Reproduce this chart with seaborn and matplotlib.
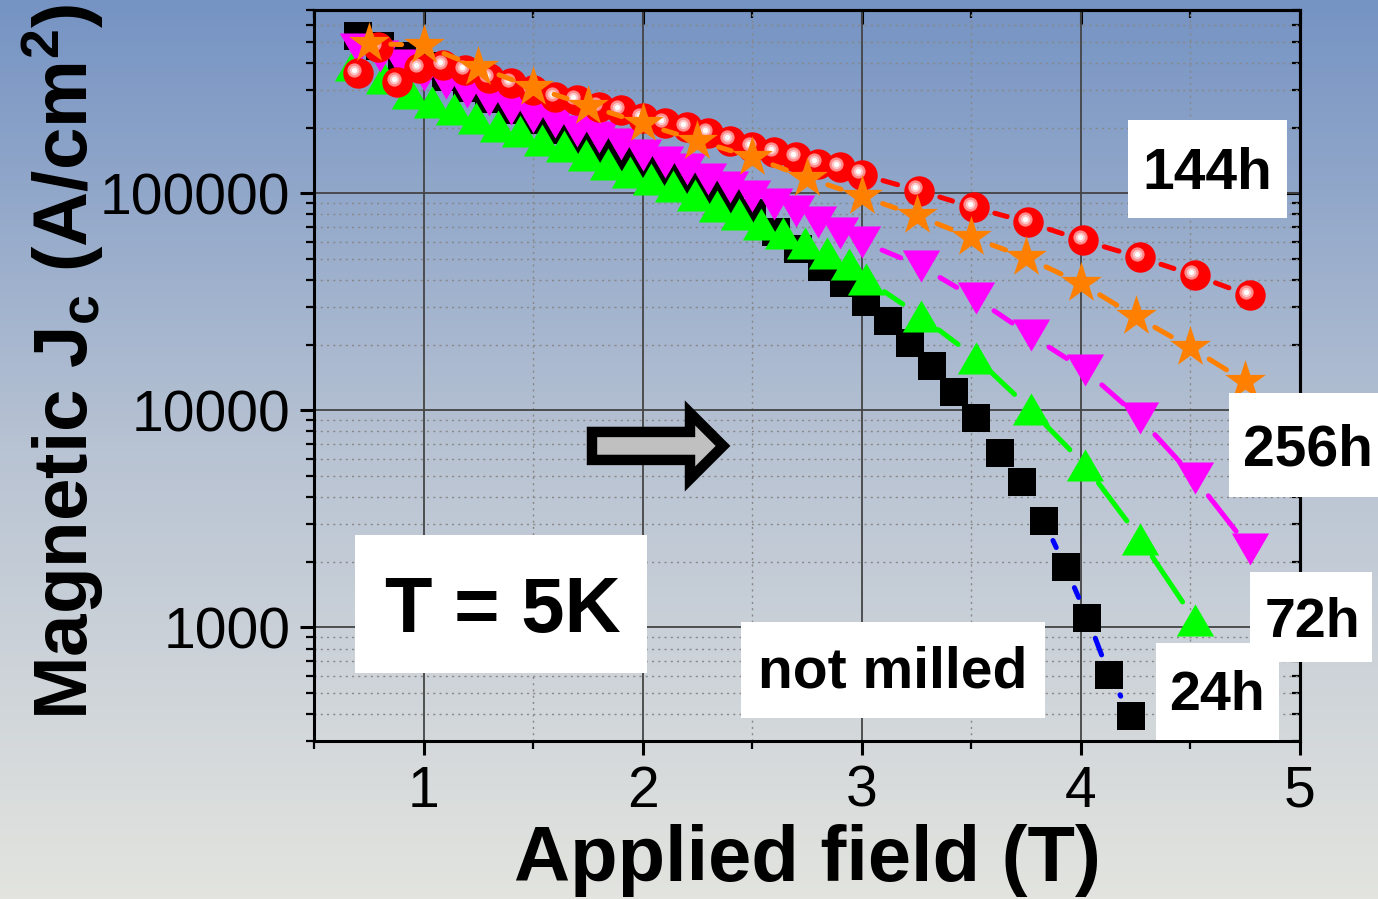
import numpy as np
import pandas as pd
import matplotlib
matplotlib.use('Agg')
import matplotlib.pyplot as plt
import seaborn as sns
from matplotlib import ticker, transforms
from matplotlib.path import Path
from matplotlib.patches import FancyArrow, Rectangle
from matplotlib.colors import LinearSegmentedColormap

# values: applied field (T) and magnetic Jc (A/cm^2)
field_nm = [0.70, 0.80, 0.90, 1.00, 1.10, 1.20, 1.30, 1.40, 1.50, 1.60, 1.70, 1.80,
            1.90, 2.00, 2.10, 2.20, 2.30, 2.40, 2.50, 2.61, 2.71, 2.82, 2.92, 3.02,
            3.12, 3.22, 3.32, 3.42, 3.52, 3.63, 3.73, 3.83, 3.93, 4.03, 4.13, 4.23]
jc_nm = [529000, 476000, 428000, 385000, 342000, 305000, 271000, 241000, 217000,
         195000, 177000, 161000, 147000, 133000, 124000, 114000, 103000, 92900,
         80900, 66100, 55200, 45600, 38500, 31500, 25700, 20400, 16100, 12100,
         9190, 6400, 4660, 3110, 1890, 1110, 601, 393]

field_24h = [0.68, 0.82, 0.94, 1.04, 1.14, 1.24, 1.34, 1.44, 1.54, 1.64, 1.74, 1.84,
             1.94, 2.04, 2.14, 2.24, 2.34, 2.44, 2.54, 2.64, 2.74, 2.84, 2.94, 3.02,
             3.27, 3.52, 3.77, 4.02, 4.27, 4.52]
jc_24h = [389000, 339000, 289000, 265000, 244000, 222000, 204000, 193000, 177000,
          165000, 151000, 137000, 126000, 116000, 108000, 97900, 87100, 80000,
          72000, 65400, 58800, 52900, 47100, 40200, 27100, 17500, 10100, 5580,
          2570, 1080]

field_72h = [0.70, 0.80, 0.90, 1.00, 1.10, 1.20, 1.30, 1.40, 1.50, 1.60, 1.70, 1.80,
             1.90, 2.00, 2.10, 2.20, 2.30, 2.40, 2.50, 2.60, 2.70, 2.80, 2.90, 3.00,
             3.27, 3.52, 3.77, 4.02, 4.27, 4.52, 4.77]
jc_72h = [465000, 428000, 389000, 353000, 321000, 292000, 268000, 244000, 226000,
          213000, 193000, 181000, 168000, 151000, 139000, 129000, 116000, 107000,
          96900, 89000, 83000, 74000, 66000, 60000, 46100, 32800, 22200, 15300,
          9190, 4860, 2310]

field_144h = [0.70, 0.79, 0.88, 0.98, 1.09, 1.19, 1.30, 1.40, 1.50, 1.60, 1.70, 1.80,
              1.90, 2.00, 2.10, 2.20, 2.30, 2.40, 2.50, 2.60, 2.70, 2.80, 2.90, 3.00,
              3.26, 3.51, 3.76, 4.01, 4.27, 4.52, 4.77]
jc_144h = [357000, 471000, 325000, 377000, 389000, 369000, 339000, 321000, 298000,
           277000, 268000, 249000, 241000, 222000, 210000, 202000, 189000, 175000,
           163000, 155000, 147000, 137000, 132000, 122000, 103000, 86200, 73500,
           60700, 50700, 41900, 33900]

field_256h = [0.75, 1.00, 1.25, 1.50, 1.75, 2.00, 2.25, 2.50, 2.75, 3.00, 3.25, 3.50,
              3.75, 4.00, 4.25, 4.50, 4.75]
jc_256h = [491000, 481000, 381000, 308000, 254000, 210000, 175000, 147000, 118000,
           96900, 79200, 62700, 50700, 38500, 27100, 19500, 13600]

plt.rcParams['font.family'] = ['Liberation Sans', 'DejaVu Sans']
plt.rcParams['mathtext.fontset'] = 'custom'
plt.rcParams['mathtext.rm'] = 'Liberation Sans'
plt.rcParams['mathtext.bf'] = 'Liberation Sans:bold'
plt.rcParams['mathtext.it'] = 'Liberation Sans:italic'

fig = plt.figure(figsize=(13.78, 8.99), dpi=100)

# gradient background
bg = fig.add_axes([0, 0, 1, 1], zorder=-5)
grad = np.linspace(0, 1, 256).reshape(-1, 1)
bg_cmap = LinearSegmentedColormap.from_list('bg', ['#E3E4DF', '#B8C3D3', '#7593C3'])
bg.imshow(grad, aspect='auto', cmap=bg_cmap, origin='lower', extent=[0, 1, 0, 1])
bg.axis('off')

ax = fig.add_axes([0.2279, 0.1758, 0.7155, 0.8131])
ax.set_facecolor('none')
ax.set_yscale('log')
ax.set_xlim(0.5, 5)
ax.set_ylim(300, 7e5)


def gapped_segments(xs, ys, gap=22):
    # line pieces between markers, stopping short of each marker (Origin style)
    pts = ax.transData.transform(np.column_stack([xs, ys]))
    inv = ax.transData.inverted()
    rows = []
    for i in range(len(pts) - 1):
        d = pts[i + 1] - pts[i]
        L = np.hypot(*d)
        if L <= 2 * gap:
            continue
        u = d / L
        a, b = inv.transform([pts[i] + u * gap, pts[i + 1] - u * gap])
        rows.append((a[0], a[1], i))
        rows.append((b[0], b[1], i))
    return pd.DataFrame(rows, columns=['x', 'y', 'seg'])


tri_up = Path([(-1, -0.86), (1, -0.86), (0, 0.86), (-1, -0.86)], closed=True)
tri_dn = Path([(-1, 0.86), (1, 0.86), (0, -0.86), (-1, 0.86)], closed=True)

series = [
    (field_nm, jc_nm, 'black', '#0000FF', 's', 390, 3),
    (field_24h, jc_24h, '#00FF00', '#00FF00', tri_up, 720, 4),
    (field_72h, jc_72h, '#FF00FF', '#FF00FF', tri_dn, 720, 5),
    (field_144h, jc_144h, '#FF0000', '#FF0000', 'o', 480, 6),
    (field_256h, jc_256h, '#FF8000', '#FF8000', '*', 950, 7),
]

for fx, jy, mcol, lcol, mk, size, z in series:
    seg = gapped_segments(fx, jy)
    sns.lineplot(data=seg, x='x', y='y', units='seg', estimator=None, sort=False,
                 color=lcol, lw=3.6, solid_capstyle='round', ax=ax, zorder=z,
                 legend=False)
    sns.scatterplot(x=fx, y=jy, marker=mk, s=size, color=mcol, edgecolor=mcol,
                    linewidth=0, ax=ax, zorder=z + 0.5, legend=False)

# glossy highlight on the red spheres
hl1 = transforms.offset_copy(ax.transData, fig=fig, x=-3.5, y=3.5, units='dots')
ax.scatter(field_144h, jc_144h, s=105, color='#FF8C8C', linewidth=0, transform=hl1, zorder=6.6)
ax.scatter(field_144h, jc_144h, s=45, color='#FFC8C8', linewidth=0, transform=hl1, zorder=6.65)
ax.scatter(field_144h, jc_144h, s=14, color='white', linewidth=0, transform=hl1, zorder=6.7)

ax.set_xlim(0.5, 5)
ax.set_ylim(300, 7e5)

# ticks and grid
ax.xaxis.set_major_locator(ticker.MultipleLocator(1))
ax.xaxis.set_minor_locator(ticker.MultipleLocator(0.5))
ax.xaxis.set_major_formatter(ticker.FormatStrFormatter('%d'))
ax.yaxis.set_major_locator(ticker.LogLocator(base=10, numticks=10))
ax.yaxis.set_minor_locator(ticker.LogLocator(base=10, subs=np.arange(2, 10), numticks=30))
ax.yaxis.set_major_formatter(ticker.FuncFormatter(lambda v, p: f'{v:.0f}'))
ax.yaxis.set_minor_formatter(ticker.NullFormatter())
ax.tick_params(which='major', direction='out', length=10, width=2.2, labelsize=41, pad=7)
ax.tick_params(which='minor', direction='out', length=5.5, width=1.6)
ax.set_axisbelow(True)
ax.grid(True, which='major', color='#444444', lw=1.3, ls='-')
ax.grid(True, which='minor', color='#888888', lw=1.0, ls=(0, (1.5, 3)))
for sp in ax.spines.values():
    sp.set_linewidth(2.2)

top = ax.secondary_xaxis('top')
top.xaxis.set_major_locator(ticker.MultipleLocator(1))
top.xaxis.set_minor_locator(ticker.MultipleLocator(0.5))
top.xaxis.set_major_formatter(ticker.NullFormatter())
top.tick_params(which='major', direction='in', length=10, width=2.2)
top.tick_params(which='minor', direction='in', length=5.5, width=1.6)
right = ax.secondary_yaxis('right')
right.yaxis.set_major_locator(ticker.LogLocator(base=10, numticks=10))
right.yaxis.set_minor_locator(ticker.LogLocator(base=10, subs=np.arange(2, 10), numticks=30))
right.yaxis.set_major_formatter(ticker.NullFormatter())
right.yaxis.set_minor_formatter(ticker.NullFormatter())
right.tick_params(which='major', direction='in', length=10, width=2.2)
right.tick_params(which='minor', direction='in', length=5.5, width=1.6)
for sec in (top, right):
    for sp in sec.spines.values():
        sp.set_linewidth(2.2)

ax.set_xlabel('Applied field (T)', fontsize=56, fontweight='bold')
ax.xaxis.set_label_coords(0.5, -0.113)
ax.set_ylabel('')
ax.text(-0.2546, 0.5185, r'Magnetic J$_\mathbf{c}$ (A/cm$^\mathbf{2}$)', transform=ax.transAxes,
        rotation=90, ha='center', va='center', fontsize=55, fontweight='bold')

# hollow arrow
ax.add_patch(FancyArrow(0.2819, 0.4036, 0.1329, 0, width=0.0383, head_width=0.0903,
                        head_length=0.0335, length_includes_head=True,
                        transform=ax.transAxes, fc='#C0C0C0', ec='black', lw=7.5,
                        joinstyle='miter', zorder=8))

# labels in white boxes: text, baseline anchor, font size, box (x0, y0, x1, y1) in axes fraction
labels = [
    ('144h', 0.9062, 0.7545, 41, (0.8256, 0.7155, 0.9868, 0.8495)),
    ('256h', 1.0081, 0.3769, 41, (0.9280, 0.3338, 1.0791, 0.4761)),
    ('72h', 1.0122, 0.1423, 40, (0.9493, 0.1081, 1.0730, 0.2312)),
    ('24h', 0.9158, 0.0424, 40, (0.8540, 0.0014, 0.9787, 0.1341)),
    ('not milled', 0.5867, 0.0725, 41, (0.4331, 0.0315, 0.7414, 0.1628)),
    ('T = 5K', 0.1912, 0.1491, 56, (0.0416, 0.0930, 0.3377, 0.2818)),
]
for txt, tx, ty, fs, (x0, y0, x1, y1) in labels:
    ax.add_patch(Rectangle((x0, y0), x1 - x0, y1 - y0, transform=ax.transAxes,
                           fc='white', ec='none', zorder=9, clip_on=False))
    ax.text(tx, ty, txt, transform=ax.transAxes, ha='center', va='baseline',
            fontsize=fs, fontweight='bold', zorder=10, clip_on=False)

fig.savefig('out.png', dpi=100)
